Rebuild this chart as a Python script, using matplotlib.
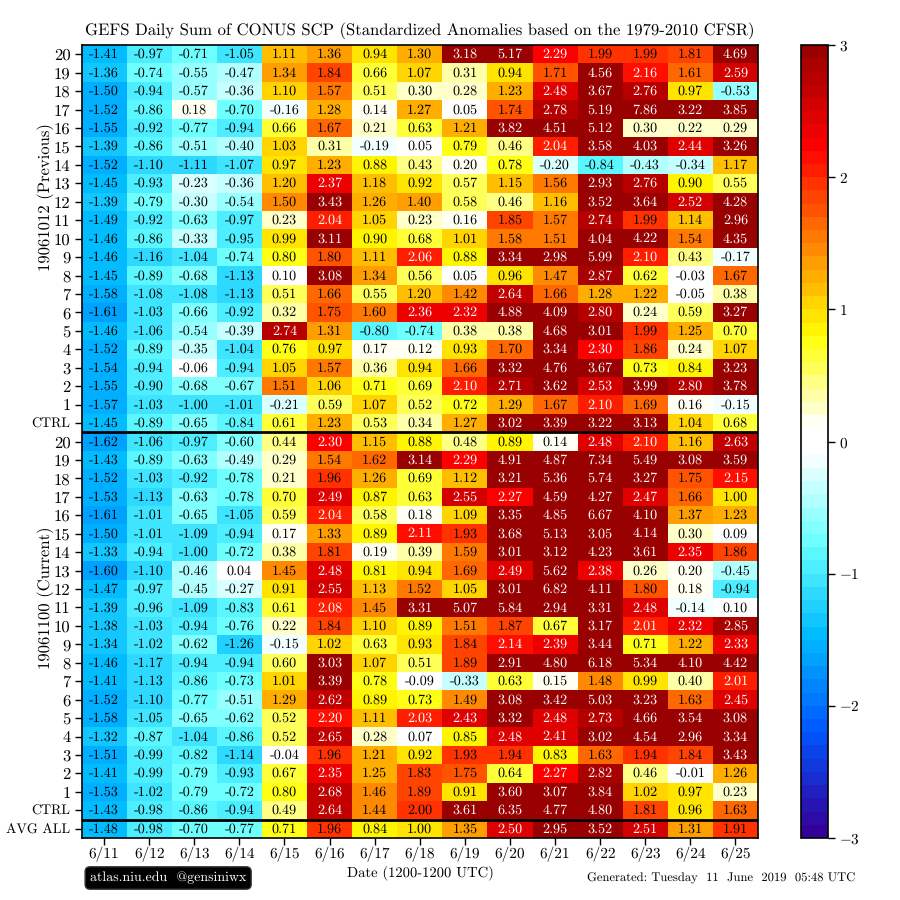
import matplotlib
matplotlib.use('Agg')
import matplotlib.pyplot as plt
import numpy as np
from matplotlib.colors import LinearSegmentedColormap, BoundaryNorm

plt.rcParams['font.family'] = 'cmr10'
plt.rcParams['mathtext.fontset'] = 'cm'
plt.rcParams['axes.formatter.use_mathtext'] = True
plt.rcParams['text.hinting'] = 'no_hinting'

dates = ['6/11','6/12','6/13','6/14','6/15','6/16','6/17','6/18','6/19','6/20','6/21','6/22','6/23','6/24','6/25']
members = ['20','19','18','17','16','15','14','13','12','11','10','9','8','7','6','5','4','3','2','1','CTRL']

previous = [
    [-1.41,-0.97,-0.71,-1.05,1.11,1.36,0.94,1.30,3.18,5.17,2.29,1.99,1.99,1.81,4.69],
    [-1.36,-0.74,-0.55,-0.47,1.34,1.84,0.66,1.07,0.31,0.94,1.71,4.56,2.16,1.61,2.59],
    [-1.50,-0.94,-0.57,-0.36,1.10,1.57,0.51,0.30,0.28,1.23,2.48,3.67,2.76,0.97,-0.53],
    [-1.52,-0.86,0.18,-0.70,-0.16,1.28,0.14,1.27,0.05,1.74,2.78,5.19,7.86,3.22,3.85],
    [-1.55,-0.92,-0.77,-0.94,0.66,1.67,0.21,0.63,1.21,3.82,4.51,5.12,0.30,0.22,0.29],
    [-1.39,-0.86,-0.51,-0.40,1.03,0.31,-0.19,0.05,0.79,0.46,2.04,3.58,4.03,2.44,3.26],
    [-1.52,-1.10,-1.11,-1.07,0.97,1.23,0.88,0.43,0.20,0.78,-0.20,-0.84,-0.43,-0.34,1.17],
    [-1.45,-0.93,-0.23,-0.36,1.20,2.37,1.18,0.92,0.57,1.15,1.56,2.93,2.76,0.90,0.55],
    [-1.39,-0.79,-0.30,-0.54,1.50,3.43,1.26,1.40,0.58,0.46,1.16,3.52,3.64,2.52,4.28],
    [-1.49,-0.92,-0.63,-0.97,0.23,2.04,1.05,0.23,0.16,1.85,1.57,2.74,1.99,1.14,2.96],
    [-1.46,-0.86,-0.33,-0.95,0.99,3.11,0.90,0.68,1.01,1.58,1.51,4.04,4.22,1.54,4.35],
    [-1.46,-1.16,-1.04,-0.74,0.80,1.80,1.11,2.06,0.88,3.34,2.98,5.99,2.10,0.43,-0.17],
    [-1.45,-0.89,-0.68,-1.13,0.10,3.08,1.34,0.56,0.05,0.96,1.47,2.87,0.62,-0.03,1.67],
    [-1.58,-1.08,-1.08,-1.13,0.51,1.66,0.55,1.20,1.42,2.64,1.66,1.28,1.22,-0.05,0.38],
    [-1.61,-1.03,-0.66,-0.92,0.32,1.75,1.60,2.36,2.32,4.88,4.09,2.80,0.24,0.59,3.27],
    [-1.46,-1.06,-0.54,-0.39,2.74,1.31,-0.80,-0.74,0.38,0.38,4.68,3.01,1.99,1.25,0.70],
    [-1.52,-0.89,-0.35,-1.04,0.76,0.97,0.17,0.12,0.93,1.70,3.34,2.30,1.86,0.24,1.07],
    [-1.54,-0.94,-0.06,-0.94,1.05,1.57,0.36,0.94,1.66,3.32,4.76,3.67,0.73,0.84,3.23],
    [-1.55,-0.90,-0.68,-0.67,1.51,1.06,0.71,0.69,2.10,2.71,3.62,2.53,3.99,2.80,3.78],
    [-1.57,-1.03,-1.00,-1.01,-0.21,0.59,1.07,0.52,0.72,1.29,1.67,2.10,1.69,0.16,-0.15],
    [-1.45,-0.89,-0.65,-0.84,0.61,1.23,0.53,0.34,1.27,3.02,3.39,3.22,3.13,1.04,0.68],
]

current = [
    [-1.62,-1.06,-0.97,-0.60,0.44,2.30,1.15,0.88,0.48,0.89,0.14,2.48,2.10,1.16,2.63],
    [-1.43,-0.89,-0.63,-0.49,0.29,1.54,1.62,3.14,2.29,4.91,4.87,7.34,5.49,3.08,3.59],
    [-1.52,-1.03,-0.92,-0.78,0.21,1.96,1.26,0.69,1.12,3.21,5.36,5.74,3.27,1.75,2.15],
    [-1.53,-1.13,-0.63,-0.78,0.70,2.49,0.87,0.63,2.55,2.27,4.59,4.27,2.47,1.66,1.00],
    [-1.61,-1.01,-0.65,-1.05,0.59,2.04,0.58,0.18,1.09,3.35,4.85,6.67,4.10,1.37,1.23],
    [-1.50,-1.01,-1.09,-0.94,0.17,1.33,0.89,2.11,1.93,3.68,5.13,3.05,4.14,0.30,0.09],
    [-1.33,-0.94,-1.00,-0.72,0.38,1.81,0.19,0.39,1.59,3.01,3.12,4.23,3.61,2.35,1.86],
    [-1.60,-1.10,-0.46,0.04,1.45,2.48,0.81,0.94,1.69,2.49,5.62,2.38,0.26,0.20,-0.45],
    [-1.47,-0.97,-0.45,-0.27,0.91,2.55,1.13,1.52,1.05,3.01,6.82,4.11,1.80,0.18,-0.94],
    [-1.39,-0.96,-1.09,-0.83,0.61,2.08,1.45,3.31,5.07,5.84,2.94,3.31,2.48,-0.14,0.10],
    [-1.38,-1.03,-0.94,-0.76,0.22,1.84,1.10,0.89,1.51,1.87,0.67,3.17,2.01,2.32,2.85],
    [-1.34,-1.02,-0.62,-1.26,-0.15,1.02,0.63,0.93,1.84,2.14,2.39,3.44,0.71,1.22,2.33],
    [-1.46,-1.17,-0.94,-0.94,0.60,3.03,1.07,0.51,1.89,2.91,4.80,6.18,5.34,4.10,4.42],
    [-1.41,-1.13,-0.86,-0.73,1.01,3.39,0.78,-0.09,-0.33,0.63,0.15,1.48,0.99,0.40,2.01],
    [-1.52,-1.10,-0.77,-0.51,1.29,2.62,0.89,0.73,1.49,3.08,3.42,5.03,3.23,1.63,2.45],
    [-1.58,-1.05,-0.65,-0.62,0.52,2.20,1.11,2.03,2.43,3.32,2.48,2.73,4.66,3.54,3.08],
    [-1.32,-0.87,-1.04,-0.86,0.52,2.65,0.28,0.07,0.85,2.48,2.41,3.02,4.54,2.96,3.34],
    [-1.51,-0.99,-0.82,-1.14,-0.04,1.96,1.21,0.92,1.93,1.94,0.83,1.63,1.94,1.84,3.43],
    [-1.41,-0.99,-0.79,-0.93,0.67,2.35,1.25,1.83,1.75,0.64,2.27,2.82,0.46,-0.01,1.26],
    [-1.53,-1.02,-0.79,-0.72,0.80,2.68,1.46,1.89,0.91,3.60,3.07,3.84,1.02,0.97,0.23],
    [-1.43,-0.98,-0.86,-0.94,0.49,2.64,1.44,2.00,3.61,6.35,4.77,4.80,1.81,0.96,1.63],
]

avg_all = [-1.48,-0.98,-0.70,-0.77,0.71,1.96,0.84,1.00,1.35,2.50,2.95,3.52,2.51,1.31,1.91]

# colorbar anchors
cb_vals = [-3, -2.25, -1.5, -0.8, -0.1, 0.1, 0.8, 2.25, 3]
cb_cols = ['#330099', '#0055ff', '#00bbff', '#66ffff', '#ffffff', '#ffffff', '#ffff00', '#ff0000', '#990000']

data = np.array(previous + current + [avg_all])
labels = members + members + ['AVG ALL']
nrow, ncol = data.shape

anchors = [(v + 3) / 6. for v in cb_vals]
cmap = LinearSegmentedColormap.from_list('scp', list(zip(anchors, cb_cols)), N=256)
levels = np.arange(-30, 31) / 10.
norm = BoundaryNorm(levels, cmap.N, clip=True)

fig = plt.figure(figsize=(9, 9), dpi=100)
ax = fig.add_axes([81.5/900, 1-838/900, (758-81.5)/900, (838-45)/900])

# small nudge so rounded values on a band edge stay in the lower band
pm = ax.pcolormesh(np.arange(ncol+1), np.arange(nrow+1), data-0.005, cmap=cmap, norm=norm)
ax.set_ylim(nrow, 0)
ax.set_xlim(0, ncol)

for i in range(nrow):
    for j in range(ncol):
        val = data[i, j]
        ax.text(j+0.5, i+0.51, '%.2f' % val, ha='center', va='center', fontsize=10.2,
                color='white' if val > 2.0 else 'black')

ax.axhline(21, color='k', lw=2)
ax.axhline(42, color='k', lw=2)

ax.set_xticks(np.arange(ncol)+0.5)
ax.set_xticklabels(dates, fontsize=11)
ax.set_yticks(np.arange(nrow)+0.5)
ax.set_yticklabels(labels, fontsize=12)
for tl in ax.get_yticklabels():
    if not tl.get_text().isdigit():
        tl.set_fontsize(10)
ax.tick_params(axis='x', length=5, width=1, pad=1.5)
ax.tick_params(axis='y', length=5, width=1, pad=3)
for s in ax.spines.values():
    s.set_linewidth(1.2)

ax.set_title('GEFS Daily Sum of CONUS SCP (Standardized Anomalies based on the 1979-2010 CFSR)',
             fontsize=12, pad=7)

fig.text(420/900, 1-874/900, 'Date (1200-1200 UTC)', ha='center', va='center', fontsize=10.5)
fig.text(46/900, 1-197/900, '19061012 (Previous)', rotation=90, ha='center', va='center', fontsize=12)
fig.text(46/900, 1-598/900, '19061100 (Current)', rotation=90, ha='center', va='center', fontsize=12)
fig.text(855/900, 1-878/900, 'Generated: Tuesday  11  June  2019  05:48 UTC',
         ha='right', va='center', fontsize=9.05)
fig.text(90/900, 1-878/900, 'atlas.niu.edu  @gensiniwx', ha='left', va='center', fontsize=10,
         color='white', bbox=dict(boxstyle='round,pad=0.35', fc='k', ec='#333333'))

cax = fig.add_axes([800.5/900, 1-838/900, 27/900, (838-45)/900])
cb = fig.colorbar(pm, cax=cax, spacing='proportional', drawedges=False)
cb.set_ticks(np.arange(-3, 4))
cb.set_ticklabels(['$%d$' % v for v in np.arange(-3, 4)], fontsize=11)
cb.ax.minorticks_off()
cb.ax.tick_params(length=5, width=1)
cb.outline.set_linewidth(1.2)

plt.savefig('out.png', dpi=100)
